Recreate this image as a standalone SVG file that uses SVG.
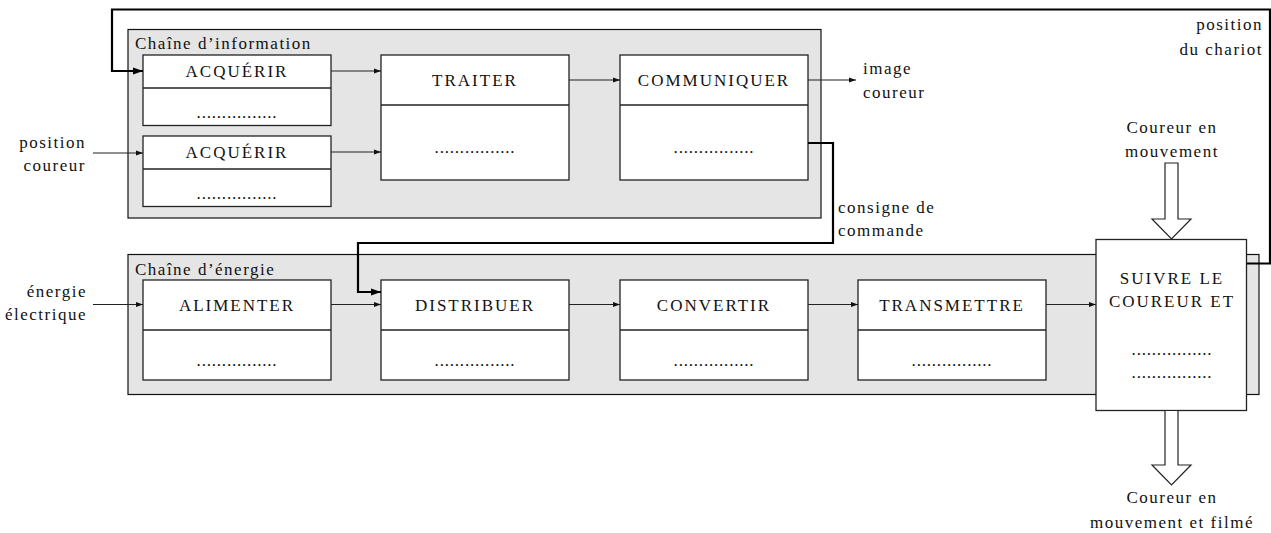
<svg xmlns="http://www.w3.org/2000/svg" width="1271" height="533" viewBox="0 0 1271 533">
<style>
text{font-family:"Liberation Serif","DejaVu Serif",serif;font-size:17px;fill:#111;letter-spacing:1.5px}
.t{letter-spacing:2px;text-anchor:middle}
.d{letter-spacing:0.8px;text-anchor:middle}
.m{text-anchor:middle}
.e{text-anchor:end}
.chain{fill:#e5e5e5;stroke:#111;stroke-width:1.2}
.box{fill:#fff;stroke:#222;stroke-width:1.3}
.div{stroke:#222;stroke-width:1.3;fill:none}
.thin{stroke:#222;stroke-width:1.1;fill:none;marker-end:url(#ah)}
.thick{stroke:#000;stroke-width:2.2;fill:none;marker-end:url(#ahb)}
.hollow{fill:#fff;stroke:#222;stroke-width:1.2}
</style>
<defs>
<marker id="ah" markerUnits="userSpaceOnUse" markerWidth="8" markerHeight="6" refX="7" refY="3" orient="auto"><path d="M0,0.5 L7,3 L0,5.5 Z" fill="#111"/></marker>
<marker id="ahb" markerUnits="userSpaceOnUse" markerWidth="11" markerHeight="8" refX="10" refY="4" orient="auto"><path d="M0,0.5 L10,4 L0,7.5 Z" fill="#000"/></marker>
</defs>
<g id="chaine-information">
<rect class="chain" x="128" y="29.5" width="693" height="188.5"/>
<text x="135" y="49" font-family="Liberation Serif, serif">Chaîne d’information</text>
</g>
<g id="chaine-energie">
<rect class="chain" x="128" y="254.5" width="1131" height="140"/>
<text x="135" y="275">Chaîne d’énergie</text>
</g>
<g id="acquerir1">
<rect class="box" x="143" y="55" width="188" height="70.5"/>
<path class="div" d="M143 88H331"/>
<text class="t" x="237" y="77">ACQUÉRIR</text>
<text class="d" x="237" y="118">................</text>
</g>
<g id="acquerir2">
<rect class="box" x="143" y="136" width="188" height="70.5"/>
<path class="div" d="M143 169H331"/>
<text class="t" x="237" y="158">ACQUÉRIR</text>
<text class="d" x="237" y="199">................</text>
</g>
<g id="traiter">
<rect class="box" x="381" y="55" width="188" height="125"/>
<path class="div" d="M381 105H569"/>
<text class="t" x="475" y="86">TRAITER</text>
<text class="d" x="475" y="153">................</text>
</g>
<g id="communiquer">
<rect class="box" x="620" y="55" width="188" height="125"/>
<path class="div" d="M620 105H808"/>
<text class="t" x="714" y="86">COMMUNIQUER</text>
<text class="d" x="714" y="153">................</text>
</g>
<g id="alimenter">
<rect class="box" x="143" y="280" width="188" height="100"/>
<path class="div" d="M143 330H331"/>
<text class="t" x="237" y="311">ALIMENTER</text>
<text class="d" x="237" y="366">................</text>
</g>
<g id="distribuer">
<rect class="box" x="381" y="280" width="188" height="100"/>
<path class="div" d="M381 330H569"/>
<text class="t" x="475" y="311">DISTRIBUER</text>
<text class="d" x="475" y="366">................</text>
</g>
<g id="convertir">
<rect class="box" x="620" y="280" width="188" height="100"/>
<path class="div" d="M620 330H808"/>
<text class="t" x="714" y="311">CONVERTIR</text>
<text class="d" x="714" y="366">................</text>
</g>
<g id="transmettre">
<rect class="box" x="858" y="280" width="188" height="100"/>
<path class="div" d="M858 330H1046"/>
<text class="t" x="952" y="311">TRANSMETTRE</text>
<text class="d" x="952" y="366">................</text>
</g>
<g id="suivre">
<rect class="box" x="1096" y="239.5" width="150.5" height="171"/>
<text class="t" x="1172" y="284">SUIVRE LE</text>
<text class="t" x="1172" y="307">COUREUR ET</text>
<text class="d" x="1172" y="355">................</text>
<text class="d" x="1172" y="378">................</text>
</g>
<g id="labels">
<text class="e" x="86" y="148">position</text>
<text class="e" x="86" y="171">coureur</text>
<text class="e" x="87" y="297">énergie</text>
<text class="e" x="87" y="320">électrique</text>
<text x="863" y="74">image</text>
<text x="863" y="98">coureur</text>
<text x="838" y="213">consigne de</text>
<text x="838" y="236">commande</text>
<text class="e" x="1263" y="30">position</text>
<text class="e" x="1263" y="55">du chariot</text>
<text class="m" x="1172" y="133">Coureur en</text>
<text class="m" x="1172" y="157">mouvement</text>
<text class="m" x="1172" y="503">Coureur en</text>
<text class="m" x="1172" y="528">mouvement et filmé</text>
</g>
<g id="connectors">
<path class="thin" d="M93 153H143"/>
<path class="thin" d="M331 71H381"/>
<path class="thin" d="M331 152H381"/>
<path class="thin" d="M569 80H620"/>
<path class="thin" d="M808 80H856"/>
<path class="thin" d="M93 304.5H143"/>
<path class="thin" d="M331 304.5H381"/>
<path class="thin" d="M569 304.5H620"/>
<path class="thin" d="M808 304.5H858"/>
<path class="thin" d="M1046 304.5H1096"/>
<path class="thick" d="M808 143H833V243H358V292H381"/>
<path class="thick" d="M1247 263.5H1270V9.5H112V71H143"/>
<path class="hollow" d="M1165 163H1178V219H1191L1171.5 239L1152 219H1165Z"/>
<path class="hollow" d="M1165 410.5H1178V465H1191L1171.5 485L1152 465H1165Z"/>
</g>
</svg>
